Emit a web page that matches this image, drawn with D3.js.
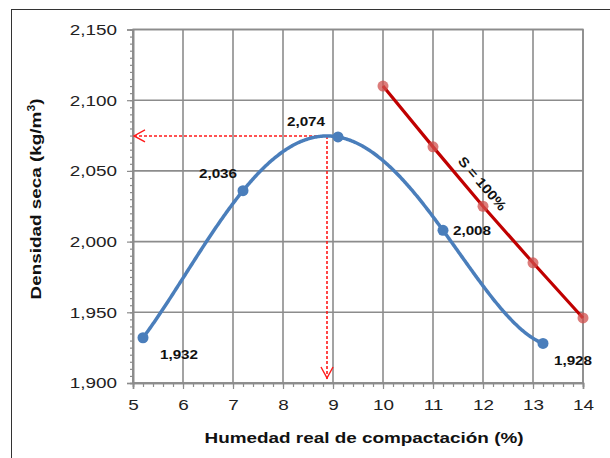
<!DOCTYPE html>
<html><head><meta charset="utf-8">
<script src="https://cdn.jsdelivr.net/npm/d3@7"></script>
<style>body{margin:0;background:#fff}svg{display:block}text{font-family:"Liberation Sans",Arial,sans-serif}</style>
</head><body><svg id="c" width="610" height="458"></svg>
<script>
const compX = [5.2, 7.2, 9.1, 11.2, 13.2];
const compY = [1932, 2036, 2074, 2008, 1928];
const compLabels = ["1,932", "2,036", "2,074", "2,008", "1,928"];
const satX = [10, 11, 12, 13, 14];
const satY = [2110, 2067, 2025, 1985, 1946];
const xTicks = [5, 6, 7, 8, 9, 10, 11, 12, 13, 14];
const yTicks = [1900, 1950, 2000, 2050, 2100, 2150];

const SX = 1.22; // horizontal text stretch seen in the reference
const svg = d3.select("#c");
const x = d3.scaleLinear().domain([5, 14]).range([133, 583]);
const y = d3.scaleLinear().domain([1900, 2150]).range([383, 29.5]);
const fmt = d3.format(",");

// polynomial trend curve through the measured points (Lagrange form)
function poly(t){
  let s = 0;
  for (let i = 0; i < compX.length; i++){
    let p = compY[i];
    for (let j = 0; j < compX.length; j++) if (j !== i) p *= (t - compX[j]) / (compX[i] - compX[j]);
    s += p;
  }
  return s;
}
const xs = d3.range(compX[0], compX[compX.length - 1] + 1e-9, 0.02);
const curve = xs.map(t => [t, poly(t)]);
const peak = curve.reduce((a, b) => (b[1] > a[1] ? b : a));
const optX = peak[0], optY = peak[1];

// outer frame
svg.append("rect").attr("x", 11.5).attr("y", 9.5).attr("width", 620).attr("height", 470)
  .attr("fill", "none").attr("stroke", "#333").attr("stroke-width", 1);

// grid
const g = svg.append("g");
g.selectAll(".gx").data(xTicks).join("line")
  .attr("x1", d => x(d)).attr("x2", d => x(d)).attr("y1", y(2150)).attr("y2", y(1900))
  .attr("stroke", "#8c8c8c").attr("stroke-width", 1.6);
g.selectAll(".gy").data(yTicks).join("line")
  .attr("x1", x(5)).attr("x2", x(14)).attr("y1", d => y(d)).attr("y2", d => y(d))
  .attr("stroke", "#8c8c8c").attr("stroke-width", 1.6);

// axes with minor ticks
const minorY = d3.range(1900, 2150.1, 5);
const minorX = d3.range(5, 14.01, 0.2);
const yAxisMinor = d3.axisLeft(y).tickValues(minorY).tickSize(3).tickFormat("");
const yAxis = d3.axisLeft(y).tickValues(yTicks).tickSize(6).tickPadding(7.2).tickFormat(fmt);
const xAxisMinor = d3.axisBottom(x).tickValues(minorX).tickSize(4).tickFormat("");
const xAxis = d3.axisBottom(x).tickValues(xTicks).tickSize(6).tickPadding(10).tickFormat(d3.format("d"));

function styleAxis(sel){
  sel.select(".domain").attr("stroke", "#8c8c8c").attr("stroke-width", 1.6);
  sel.selectAll(".tick line").attr("stroke", "#8c8c8c").attr("stroke-width", 1.2);
  sel.selectAll(".tick text").attr("font-size", 15.5).attr("fill", "#222")
    .attr("transform", `scale(${SX},1)`);
}
svg.append("g").attr("transform", `translate(${x(5)},0)`).call(yAxisMinor).call(styleAxis);
svg.append("g").attr("transform", `translate(${x(5)},0)`).call(yAxis).call(styleAxis);
svg.append("g").attr("transform", `translate(0,${y(1900)})`).call(xAxisMinor).call(styleAxis);
svg.append("g").attr("transform", `translate(0,${y(1900)})`).call(xAxis).call(styleAxis);

// plot border
svg.append("rect").attr("x", x(5)).attr("y", y(2150)).attr("width", x(14) - x(5)).attr("height", y(1900) - y(2150))
  .attr("fill", "none").attr("stroke", "#8c8c8c").attr("stroke-width", 1.6);

// saturation line
const satData = satX.map((d, i) => [d, satY[i]]);
svg.append("path").datum(satData)
  .attr("d", d3.line().x(d => x(d[0])).y(d => y(d[1])))
  .attr("fill", "none").attr("stroke", "#C00000").attr("stroke-width", 3.2);
svg.selectAll(".satpt").data(satData).join("circle")
  .attr("cx", d => x(d[0])).attr("cy", d => y(d[1])).attr("r", 5.5)
  .attr("fill", "#d0504d").attr("fill-opacity", 0.75);

// S = 100% label
{
  const ang = Math.atan2(y(satY[4]) - y(satY[0]), x(14) - x(10)) * 180 / Math.PI;
  const cx = x(11.97), cy = y(2025) - 22;
  svg.append("text").attr("transform", `translate(${cx},${cy}) rotate(${ang}) scale(1.12,1)`)
    .attr("text-anchor", "middle").attr("dominant-baseline", "middle")
    .attr("font-size", 13.5).attr("font-weight", "bold").attr("fill", "#111").text("S = 100%");
}

// dashed optimum lines
const red = "#ff1a1a";
svg.append("line").attr("x1", x(optX)).attr("x2", x(5)).attr("y1", y(optY)).attr("y2", y(optY))
  .attr("stroke", red).attr("stroke-width", 1.6).attr("stroke-dasharray", "3,2");
svg.append("line").attr("x1", x(optX)).attr("x2", x(optX)).attr("y1", y(optY)).attr("y2", y(1900) - 4)
  .attr("stroke", red).attr("stroke-width", 1.6).attr("stroke-dasharray", "3,2");
svg.append("path").attr("d", `M${x(5) + 12},${y(optY) - 6} L${x(5) + 1},${y(optY)} L${x(5) + 12},${y(optY) + 6}`)
  .attr("fill", "none").attr("stroke", red).attr("stroke-width", 1.4);
svg.append("path").attr("d", `M${x(optX) - 6},${y(1900) - 16} L${x(optX)},${y(1900) - 5} L${x(optX) + 6},${y(1900) - 16}`)
  .attr("fill", "none").attr("stroke", red).attr("stroke-width", 1.4);

// compaction curve
svg.append("path").datum(curve)
  .attr("d", d3.line().x(d => x(d[0])).y(d => y(d[1])))
  .attr("fill", "none").attr("stroke", "#4a7ebb").attr("stroke-width", 3.5).attr("stroke-linecap", "round");
const compData = compX.map((d, i) => [d, compY[i]]);
svg.selectAll(".cpt").data(compData).join("circle")
  .attr("cx", d => x(d[0])).attr("cy", d => y(d[1])).attr("r", 5.5).attr("fill", "#4a7ebb");

// point labels
const labOff = [[36, 18], [-25, -16], [-32, -14], [29, 1], [30, 18]];
svg.selectAll(".lab").data(compData).join("text")
  .attr("transform", (d, i) => `translate(${x(d[0]) + labOff[i][0]},${y(d[1]) + labOff[i][1]}) scale(${SX},1)`)
  .attr("text-anchor", "middle").attr("dominant-baseline", "middle")
  .attr("font-size", 12.5).attr("font-weight", "bold").attr("fill", "#111")
  .text((d, i) => compLabels[i]);

// axis titles
svg.append("text").attr("transform", `translate(364,443) scale(${SX},1)`).attr("text-anchor", "middle")
  .attr("font-size", 15.5).attr("font-weight", "bold").attr("fill", "#111").text("Humedad real de compactación (%)");
const yt = svg.append("text").attr("transform", `translate(41,199) rotate(-90) scale(${SX},1)`).attr("text-anchor", "middle")
  .attr("font-size", 15.5).attr("font-weight", "bold").attr("fill", "#111");
yt.append("tspan").text("Densidad seca (kg/m");
yt.append("tspan").attr("font-size", 10).attr("dy", -6).text("3");
yt.append("tspan").attr("dy", 6).text(")");
</script></body></html>
